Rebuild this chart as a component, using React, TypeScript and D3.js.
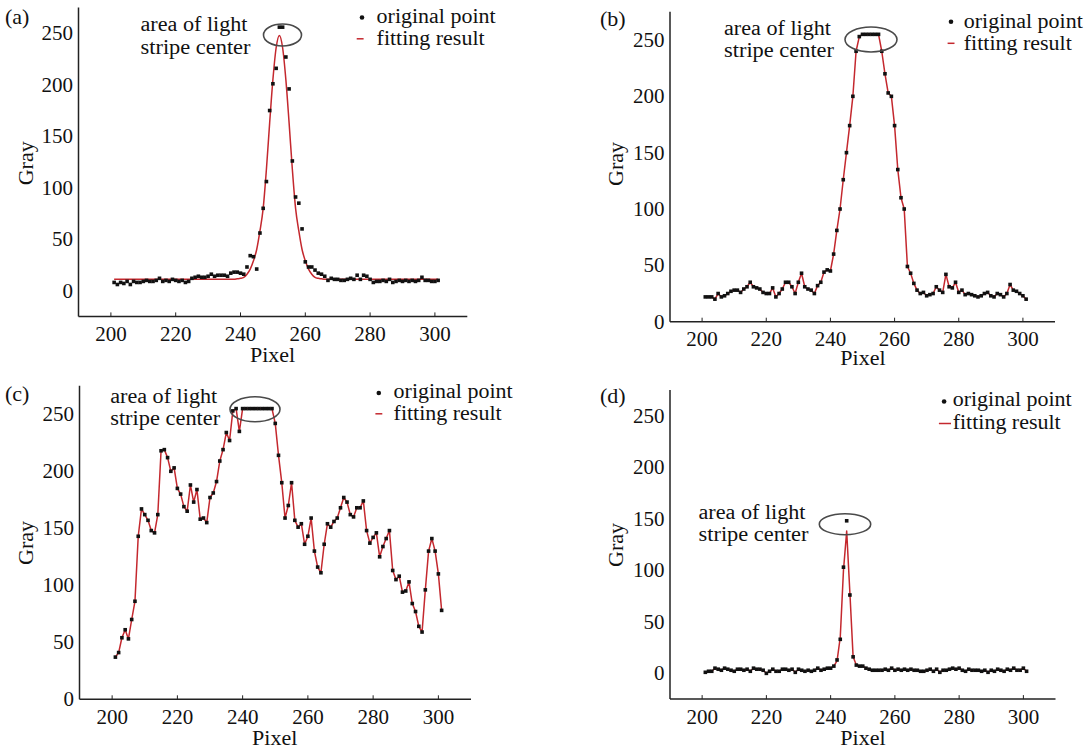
import React from "react";
import * as d3 from "d3";

// pixel columns 201..301 shared by all four profiles
const pixels = d3.range(201, 302);

const xTicks = [200, 220, 240, 260, 280, 300];
const yTicks = [0, 50, 100, 150, 200, 250];
const legendLabels = ["original point", "fitting result"];
const noteLines = ["area of light", "stripe center"];

// (a) gaussian-like stripe
const grayA = [
  8, 6, 8, 7, 9, 6, 9, 8, 8, 9,
  10, 9, 9, 10, 12, 9, 10, 9, 11, 10,
  9, 10, 8, 9, 12, 13, 14, 13, 13, 14,
  16, 14, 15, 15, 15, 14, 17, 18, 18, 17,
  16, 23, 34, 33, 21, 56, 80, 106, 175, 201,
  216, 256, 256, 227, 196, 126, 91, 85, 60, 28,
  23, 23, 20, 17, 16, 14, 10, 12, 11, 11,
  10, 10, 11, 12, 11, 15, 11, 15, 14, 11,
  8, 9, 9, 10, 9, 11, 8, 9, 10, 9,
  10, 9, 10, 9, 10, 13, 10, 10, 9, 9,
  10,
];
const fitA = [
  11, 11, 11, 11, 11, 11, 11, 11, 11, 11,
  11, 11, 11, 11, 11, 11, 11, 11, 11, 11,
  11, 11, 11, 11, 11, 11, 11, 11, 11, 11,
  11, 11, 11, 11, 11, 11, 11, 11, 11.5, 12,
  13, 16, 21, 29, 40, 58, 80, 118, 163, 205,
  236, 248, 236, 205, 163, 118, 80, 58, 40, 29,
  21, 16, 13, 12, 11.5, 11, 11, 11, 11, 11,
  11, 11, 11, 11, 11, 11, 11, 11, 11, 11,
  11, 11, 11, 11, 11, 11, 11, 11, 11, 11,
  11, 11, 11, 11, 11, 11, 11, 11, 11, 11,
  11,
];

// (b) saturated wide stripe
const grayB = [
  22, 22, 22, 20, 25, 22, 23, 25, 27, 28,
  28, 26, 29, 31, 35, 31, 30, 29, 26, 25,
  25, 30, 22, 25, 29, 35, 35, 31, 25, 35,
  43, 31, 29, 28, 25, 32, 35, 44, 46, 45,
  60, 81, 100, 126, 150, 174, 200, 240, 253, 255,
  255, 255, 255, 255, 255, 240, 220, 203, 200, 174,
  135, 110, 100, 49, 43, 34, 28, 25, 26, 23,
  24, 25, 31, 28, 26, 42, 31, 30, 35, 26,
  28, 24, 25, 24, 23, 22, 23, 25, 26, 23,
  22, 25, 24, 22, 25, 33, 28, 27, 25, 23,
  20,
];

// (c) noisy bright background
const grayC = [
  37, 41, 54, 61, 53, 70, 86, 143, 167, 162,
  157, 148, 146, 162, 218, 219, 212, 200, 203, 185,
  180, 169, 165, 188, 173, 184, 158, 159, 155, 177,
  181, 191, 209, 219, 234, 227, 253, 255, 235, 255,
  255, 255, 255, 255, 255, 255, 255, 255, 255, 242,
  214, 190, 159, 170, 190, 157, 151, 154, 136, 143,
  159, 130, 116, 111, 136, 154, 151, 156, 159, 168,
  177, 173, 162, 160, 168, 168, 174, 148, 137, 142,
  146, 125, 134, 141, 148, 113, 105, 108, 94, 95,
  103, 84, 77, 64, 59, 96, 130, 141, 130, 110,
  78,
];

// (d) narrow weak stripe
const grayD = [
  1, 2, 2, 5, 4, 3, 5, 4, 3, 2,
  4, 4, 3, 4, 2, 5, 4, 4, 3, 0,
  2, 4, 2, 2, 4, 4, 3, 4, 1, 4,
  3, 2, 3, 2, 3, 5, 3, 4, 5, 5,
  7, 13, 33, 103, 148, 76, 16, 8, 7, 7,
  5, 4, 3, 3, 3, 3, 4, 3, 5, 3,
  4, 3, 4, 3, 4, 3, 3, 2, 2, 3,
  4, 2, 4, 1, 3, 3, 4, 5, 4, 5,
  3, 2, 4, 3, 3, 3, 2, 3, 1, 3,
  2, 4, 3, 2, 4, 3, 5, 3, 3, 5,
  2,
];
const fitD = [
  1, 2, 2, 5, 4, 3, 5, 4, 3, 2,
  4, 4, 3, 4, 2, 5, 4, 4, 3, 0,
  2, 4, 2, 2, 4, 4, 3, 4, 1, 4,
  3, 2, 3, 2, 3, 5, 3, 4, 5, 5,
  7, 12, 35, 100, 138, 78, 16, 8, 7, 7,
  5, 4, 3, 3, 3, 3, 4, 3, 5, 3,
  4, 3, 4, 3, 4, 3, 3, 2, 2, 3,
  4, 2, 4, 1, 3, 3, 4, 5, 4, 5,
  3, 2, 4, 3, 3, 3, 2, 3, 1, 3,
  2, 4, 3, 2, 4, 3, 5, 3, 3, 5,
  2,
];

const FONT = "'Liberation Serif', 'DejaVu Serif', serif";
const FS = 22;
const FS_SMALL = 20; // two-line blocks, stretched to the reference widths
const FS_TICK = 21;
const RED = "#c4282e";
const legendWidths = [119, 108];
const noteWidths = [107, 110];

const panels = [
  {
    letter: "(a)", points: grayA, fit: fitA, smooth: true, yMin: -25,
    frame: { left: 78.5, right: 467.3, top: 7.6, bottom: 316.4 },
    letterPos: [5, 24],
    legend: { dotX: 362, dotY: 17.5, lx1: 356.7, lx2: 363.6, lineY: 38.8, textX: 376.6, t1: 23, t2: 45.3 },
    note: { x: 140.5, y1: 31.4, y2: 53.7, cx: 282.5, cy: 35, rx: 19, ry: 11 },
    grayPos: [25.8, 163.3], pixelPos: [272.6, 361.5],
  },
  {
    letter: "(b)", points: grayB, fit: grayB, smooth: false, yMin: 0,
    frame: { left: 670, right: 1055, top: 11.8, bottom: 321.7 },
    letterPos: [600, 26],
    legend: { dotX: 951, dotY: 21.7, lx1: 947.6, lx2: 954.5, lineY: 43.3, textX: 963.8, t1: 28, t2: 50.3 },
    note: { x: 724, y1: 34.7, y2: 57, cx: 871, cy: 39.5, rx: 26, ry: 12.5 },
    grayPos: [615.7, 164], pixelPos: [862.9, 365],
  },
  {
    letter: "(c)", points: grayC, fit: grayC, smooth: false, yMin: 0,
    frame: { left: 79.5, right: 471, top: 385.8, bottom: 699.3 },
    letterPos: [5, 401],
    legend: { dotX: 378.8, dotY: 393, lx1: 375.4, lx2: 382.3, lineY: 413.8, textX: 393.6, t1: 397.5, t2: 419.8 },
    note: { x: 110.2, y1: 403, y2: 425.3, cx: 255, cy: 409.3, rx: 25, ry: 12.5 },
    grayPos: [25.8, 543], pixelPos: [274.7, 745],
  },
  {
    letter: "(d)", points: grayD, fit: fitD, smooth: false, yMin: -25,
    frame: { left: 670, right: 1055.5, top: 389.9, bottom: 699.1 },
    letterPos: [600, 403],
    legend: { dotX: 944.1, dotY: 401.5, lx1: 938.9, lx2: 951, lineY: 423.5, textX: 952.7, t1: 406.4, t2: 428.7 },
    note: { x: 698.5, y1: 518.6, y2: 540.9, cx: 845, cy: 524.2, rx: 25.7, ry: 10.5 },
    grayPos: [615.7, 545], pixelPos: [862.9, 745],
  },
];

function Label({ x, y, width, children }) {
  return (
    <text x={x} y={y} fontFamily={FONT} fontSize={FS_SMALL} fill="#111"
      textLength={width} lengthAdjust="spacingAndGlyphs">{children}</text>
  );
}

function Panel({ p }) {
  const { frame } = p;
  const x = d3.scaleLinear().domain([190, 310]).range([frame.left, frame.right]);
  const y = d3.scaleLinear().domain([p.yMin, 275]).range([frame.bottom, frame.top]);

  const line = d3.line()
    .x((d) => x(d[0]))
    .y((d) => y(d[1]))
    .curve(p.smooth ? d3.curveMonotoneX : d3.curveLinear);

  const fitPath = line(pixels.map((px, i) => [px, p.fit[i]]));

  return (
    <g>
      {/* axes */}
      <line x1={frame.left} x2={frame.left} y1={frame.top} y2={frame.bottom} stroke="#222" strokeWidth={1.5} />
      <line x1={frame.left} x2={frame.right} y1={frame.bottom} y2={frame.bottom} stroke="#222" strokeWidth={1.5} />
      {xTicks.map((t) => (
        <g key={"x" + t}>
          <line x1={x(t)} x2={x(t)} y1={frame.bottom} y2={frame.bottom - 4} stroke="#222" strokeWidth={1} />
          <text x={x(t)} y={frame.bottom + 24.5} textAnchor="middle" fontFamily={FONT} fontSize={FS_TICK} fill="#111">{t}</text>
        </g>
      ))}
      {yTicks.map((t) => (
        <text key={"y" + t} x={frame.left - 5.5} y={y(t)} dy="0.34em" textAnchor="end" fontFamily={FONT} fontSize={FS_TICK} fill="#111">{t}</text>
      ))}
      <text x={p.pixelPos[0]} y={p.pixelPos[1]} textAnchor="middle" fontFamily={FONT} fontSize={FS} fill="#111">Pixel</text>
      <text transform={`translate(${p.grayPos[0] + 7},${p.grayPos[1]}) rotate(-90)`} textAnchor="middle" fontFamily={FONT} fontSize={FS} fill="#111">Gray</text>
      <text x={p.letterPos[0]} y={p.letterPos[1]} fontFamily={FONT} fontSize={FS} fill="#111">{p.letter}</text>

      {/* fitted line then original points */}
      <path d={fitPath} fill="none" stroke={RED} strokeWidth={1.5} strokeLinejoin="round" />
      {pixels.map((px, i) => (
        <rect key={px} x={x(px) - 1.8} y={y(p.points[i]) - 1.8} width={3.6} height={3.6} fill="#111" />
      ))}

      {/* annotation */}
      <ellipse cx={p.note.cx} cy={p.note.cy} rx={p.note.rx} ry={p.note.ry} fill="none" stroke="#4a4a4a" strokeWidth={1.6} />
      <Label x={p.note.x} y={p.note.y1} width={noteWidths[0]}>{noteLines[0]}</Label>
      <Label x={p.note.x} y={p.note.y2} width={noteWidths[1]}>{noteLines[1]}</Label>

      {/* legend */}
      <circle cx={p.legend.dotX} cy={p.legend.dotY} r={2.3} fill="#111" />
      <Label x={p.legend.textX} y={p.legend.t1} width={legendWidths[0]}>{legendLabels[0]}</Label>
      <line x1={p.legend.lx1} x2={p.legend.lx2} y1={p.legend.lineY} y2={p.legend.lineY} stroke={RED} strokeWidth={1.5} />
      <Label x={p.legend.textX} y={p.legend.t2} width={legendWidths[1]}>{legendLabels[1]}</Label>
    </g>
  );
}

export default function App() {
  return (
    <svg width={1092} height={750} style={{ position: "absolute", left: 0, top: 0, background: "#fff" }}>
      <rect width={1092} height={750} fill="#fff" />
      {panels.map((p) => (
        <Panel key={p.letter} p={p} />
      ))}
    </svg>
  );
}
